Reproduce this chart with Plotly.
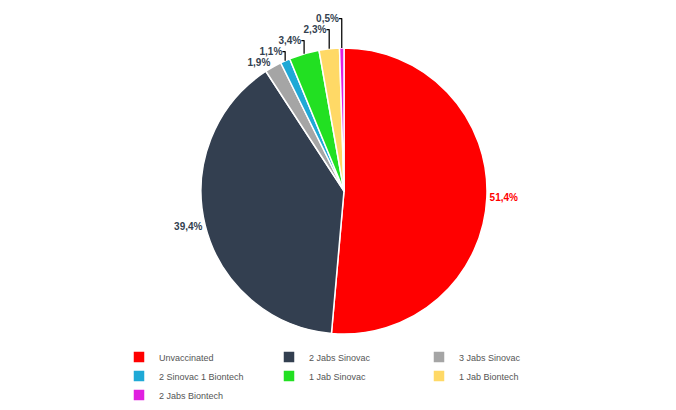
import plotly.graph_objects as go

labels = ["Unvaccinated", "2 Jabs Sinovac", "3 Jabs Sinovac", "2 Sinovac 1 Biontech",
          "1 Jab Sinovac", "1 Jab Biontech", "2 Jabs Biontech"]
values = [51.4, 39.4, 1.9, 1.1, 3.4, 2.3, 0.5]
text_labels = ["51,4%", "39,4%", "1,9%", "1,1%", "3,4%", "2,3%", "0,5%"]
colors = ["#FF0000", "#333F50", "#A5A5A5", "#1FA9D6", "#22E022", "#FFD966", "#E020E0"]
text_colors = ["#FF0000", "#333F50", "#333F50", "#333F50", "#333F50", "#333F50", "#333F50"]

fig = go.Figure(go.Pie(
    labels=labels, values=values, text=text_labels, textinfo="text",
    textposition="outside", sort=False, direction="clockwise", rotation=0,
    marker=dict(colors=colors, line=dict(color="white", width=1.5)),
    textfont=dict(size=10, color=text_colors, family="Liberation Sans"),
    outsidetextfont=dict(size=10, color=text_colors, family="Liberation Sans"),
    domain=dict(x=[0, 1], y=[0, 1]),
))
fig.update_traces(texttemplate="<b>%{text}</b>")
fig.update_layout(
    width=676, height=410, paper_bgcolor="white", plot_bgcolor="white",
    margin=dict(t=8, b=70, l=40, r=40),
    showlegend=True,
    legend=dict(orientation="h", x=0.5, xanchor="center", y=-0.03, yanchor="top",
                font=dict(size=9, color="#555555", family="Liberation Sans"),
                itemwidth=30, entrywidth=105, entrywidthmode="pixels",
                traceorder="normal"),
)
fig.write_html("out.html")
